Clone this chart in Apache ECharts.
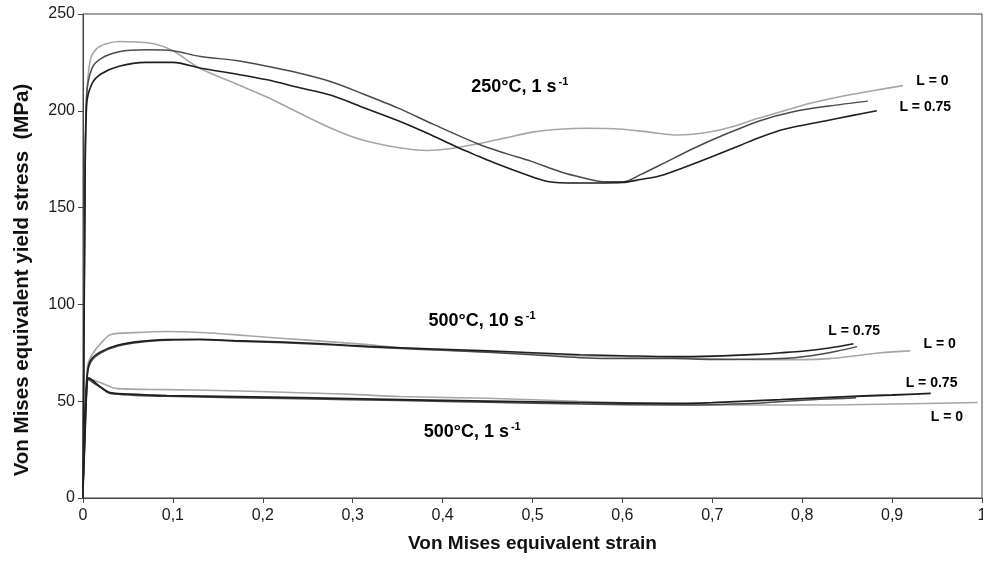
<!DOCTYPE html>
<html>
<head>
<meta charset="utf-8">
<script src="https://cdn.jsdelivr.net/npm/echarts@6/dist/echarts.min.js"></script>
<style>
  html, body { margin: 0; padding: 0; background: #fff; }
  #chart { width: 983px; height: 565px; }
</style>
</head>
<body>
<div id="chart"></div>
<script>
// strain ticks and stress ticks
const xTicks = [0, 0.1, 0.2, 0.3, 0.4, 0.5, 0.6, 0.7, 0.8, 0.9, 1];
const yTicks = [0, 50, 100, 150, 200, 250];

// 250°C, 1 s-1
const t250_L0 = [[0,0],[0.002,150],[0.004,205],[0.008,226],[0.015,232],[0.025,234.5],[0.04,235.8],[0.06,235.5],[0.08,234.5],[0.1,231],[0.13,222],[0.17,214],[0.205,207],[0.24,199],[0.276,191],[0.31,185],[0.35,181],[0.383,179.5],[0.41,180.5],[0.44,183],[0.47,186],[0.5,189],[0.53,190.5],[0.56,191],[0.6,190.5],[0.63,189],[0.66,187.5],[0.69,188.5],[0.72,191.5],[0.75,196],[0.78,200],[0.81,204],[0.85,208],[0.88,210.5],[0.912,213]];
const t250_mid = [[0,0],[0.002,150],[0.004,208],[0.01,222],[0.02,227],[0.04,230.5],[0.07,231.5],[0.1,231],[0.131,228],[0.17,226],[0.205,223],[0.24,219.5],[0.276,215],[0.31,209],[0.35,201.5],[0.39,193],[0.439,183],[0.47,178],[0.498,174],[0.531,168.5],[0.555,165.5],[0.579,163.3],[0.601,163.3],[0.62,167],[0.642,172],[0.68,180.8],[0.71,187],[0.754,195],[0.79,199.5],[0.83,202.5],[0.873,205]];
const t250_L075 = [[0,0],[0.002,140],[0.004,203],[0.01,214],[0.02,219],[0.04,223],[0.07,225],[0.1,225],[0.131,222],[0.17,219],[0.205,216],[0.24,212],[0.276,208],[0.31,202],[0.35,195],[0.385,188],[0.417,181],[0.44,176.5],[0.461,172.5],[0.49,167.5],[0.517,163.5],[0.55,162.7],[0.6,163],[0.62,164.5],[0.642,166.5],[0.67,171],[0.698,176],[0.73,182],[0.754,186.5],[0.78,190.5],[0.828,195],[0.855,197.5],[0.883,200]];

// 500°C, 10 s-1
const t500f_L0 = [[0,3],[0.002,40],[0.005,68],[0.01,74],[0.02,80],[0.031,84.4],[0.057,85.4],[0.094,86],[0.13,85.5],[0.168,84.4],[0.205,83],[0.242,81.8],[0.28,80.5],[0.317,79.2],[0.353,77.6],[0.4,76.5],[0.45,75.5],[0.5,74.5],[0.55,73.5],[0.6,72.8],[0.65,72.5],[0.7,72],[0.75,71.5],[0.8,71.5],[0.83,72],[0.86,73.5],[0.887,75],[0.92,76]];
const t500f_mid = [[0,3],[0.002,40],[0.005,64],[0.009,70.5],[0.02,75],[0.039,78.5],[0.064,80.5],[0.094,81.5],[0.13,81.7],[0.168,81],[0.205,80.5],[0.242,79.8],[0.28,79],[0.317,78],[0.353,77.2],[0.4,76.3],[0.45,75.3],[0.5,74],[0.553,72.5],[0.6,72],[0.656,72],[0.7,71.5],[0.776,72],[0.81,73.5],[0.84,76],[0.861,78.2]];
const t500f_L075 = [[0,3],[0.002,40],[0.005,65],[0.009,71.5],[0.02,75.6],[0.039,79],[0.064,80.9],[0.094,81.8],[0.13,82],[0.168,81.3],[0.205,80.8],[0.242,80.2],[0.28,79.3],[0.317,78.3],[0.353,77.6],[0.4,76.8],[0.45,76],[0.5,75],[0.553,74],[0.6,73.5],[0.656,73],[0.7,73.3],[0.75,74.2],[0.776,75],[0.8,75.8],[0.83,77.5],[0.857,79.7]];

// 500°C, 1 s-1
const t500s_L0 = [[0,5],[0.002,30],[0.004,55],[0.006,61],[0.01,61],[0.019,59.6],[0.038,56.5],[0.093,56],[0.15,55.5],[0.241,54.4],[0.3,53.5],[0.353,52.4],[0.45,51.5],[0.55,50],[0.656,48.5],[0.75,48],[0.85,48.2],[0.92,48.7],[0.995,49.3]];
const t500s_mid = [[0,5],[0.002,30],[0.004,55],[0.006,61.5],[0.01,60],[0.02,57],[0.03,54],[0.093,52.5],[0.241,51.3],[0.353,50.3],[0.45,49.5],[0.553,48.5],[0.656,48],[0.75,49],[0.8,50.5],[0.85,51.5],[0.86,51.8]];
const t500s_L075 = [[0,5],[0.002,30],[0.004,55],[0.006,62],[0.01,61],[0.019,57.5],[0.03,54.4],[0.06,53.5],[0.093,52.9],[0.17,52.3],[0.241,51.8],[0.353,50.8],[0.45,50],[0.553,49.3],[0.656,48.8],[0.7,49.3],[0.776,50.8],[0.85,52.4],[0.9,53.2],[0.943,54]];

// annotation texts and where they sit (strain, stress)
const groupLabels = ['250°C, 1 s', '500°C, 10 s', '500°C, 1 s'];
const groupAt = [[0.487, 211.8], [0.445, 91], [0.434, 33.8]];
const lLabels = ['L = 0', 'L = 0.75', 'L = 0.75', 'L = 0', 'L = 0.75', 'L = 0'];
const lAt = [[0.946, 214.9], [0.938, 201.5], [0.859, 85.9], [0.954, 79.2], [0.945, 58.6], [0.962, 41.5]];

const FONT = 'Arial, "Liberation Sans", sans-serif';
const GRAY = '#a6a6a6', MID = '#4a4a4a', DARK = '#1e1e1e';

function curve(name, data, color, width) {
  return {
    name, type: 'line', data, showSymbol: false, smooth: 0.3,
    lineStyle: { color, width }, z: color === GRAY ? 2 : 3
  };
}

function textSeries(name, data, label) {
  return {
    name, type: 'scatter', symbol: 'circle', symbolSize: 2, silent: true, z: 5,
    itemStyle: { color: '#fff', opacity: 0 },
    emphasis: { disabled: true },
    data,
    label: Object.assign({ show: true, position: [0, 0], align: 'center', verticalAlign: 'middle', opacity: 1 }, label)
  };
}

const chart = echarts.init(document.getElementById('chart'));
chart.setOption({
  animation: false,
  grid: {
    left: 83, right: 1, top: 14, bottom: 67, outerBoundsMode: 'none',
    show: true, borderColor: '#444', borderWidth: 1
  },
  xAxis: {
    type: 'value', min: 0, max: 1, interval: 0.1,
    name: 'Von Mises equivalent strain', nameLocation: 'middle', nameGap: 36,
    nameTextStyle: { fontFamily: FONT, fontSize: 19, fontWeight: 'bold', color: '#111' },
    axisLine: { lineStyle: { color: '#444' } },
    axisTick: { show: true, length: 5, lineStyle: { color: '#444' } },
    splitLine: { show: false },
    axisLabel: {
      fontFamily: FONT, fontSize: 16, color: '#1a1a1a', margin: 10,
      formatter: v => xTicks.includes(Math.round(v * 10) / 10) ? String(Math.round(v * 10) / 10).replace('.', ',') : ''
    }
  },
  yAxis: {
    type: 'value', min: 0, max: 250, interval: 50,
    name: 'Von Mises equivalent yield stress  (MPa)', nameLocation: 'middle', nameGap: 50,
    nameTextStyle: { fontFamily: FONT, fontSize: 20.5, fontWeight: 'bold', color: '#111', padding: [0, 48, 0, 0] },
    axisLine: { show: true, lineStyle: { color: '#444' } },
    axisTick: { show: true, length: 5, lineStyle: { color: '#444' } },
    splitLine: { show: false },
    axisLabel: {
      fontFamily: FONT, fontSize: 16, color: '#1a1a1a', margin: 8,
      formatter: v => yTicks.includes(v) ? String(v) : ''
    }
  },
  series: [
    curve('250°C L=0', t250_L0, GRAY, 1.6),
    curve('250°C mid', t250_mid, MID, 1.5),
    curve('250°C L=0.75', t250_L075, DARK, 1.6),
    curve('500°C 10/s L=0', t500f_L0, GRAY, 1.6),
    curve('500°C 10/s mid', t500f_mid, MID, 1.5),
    curve('500°C 10/s L=0.75', t500f_L075, DARK, 1.6),
    curve('500°C 1/s L=0', t500s_L0, GRAY, 1.6),
    curve('500°C 1/s mid', t500s_mid, MID, 1.5),
    curve('500°C 1/s L=0.75', t500s_L075, DARK, 1.8),
    textSeries('groups', groupAt.map((p, i) => [p[0], p[1], groupLabels[i]]), {
      formatter: p => '{t|' + p.data[2] + '}{s|-1}',
      rich: {
        t: { fontFamily: FONT, fontSize: 18, fontWeight: 'bold', color: '#000', lineHeight: 20 },
        s: { fontFamily: FONT, fontSize: 11, fontWeight: 'bold', color: '#000', verticalAlign: 'top', padding: [0, 0, 8, 2] }
      }
    }),
    textSeries('L labels', lAt.map((p, i) => [p[0], p[1], lLabels[i]]), {
      formatter: p => p.data[2],
      fontFamily: FONT, fontSize: 14, fontWeight: 'bold', color: '#000'
    })
  ]
});
</script>
</body>
</html>
